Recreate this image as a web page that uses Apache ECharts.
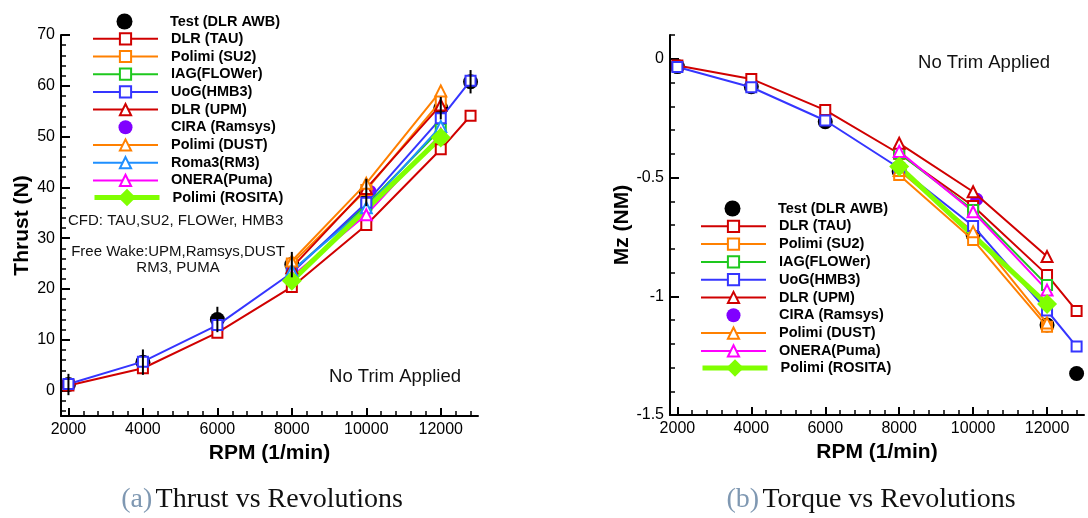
<!DOCTYPE html>
<html><head><meta charset="utf-8">
<script src="https://cdn.jsdelivr.net/npm/echarts@6/dist/echarts.min.js"></script>
<style>html,body{margin:0;padding:0;background:#fff}#c{width:1088px;height:518px}</style>
</head><body><div id="c"></div>
<script>
// ---------- data ----------
const rpmFull   = [2000, 4000, 6000, 8000, 10000, 12000, 12800];
const rpmMid    = [8000, 10000, 12000];
const rpmRosita = [8000, 12000];
const rpmRamsys = [10100];

// Thrust (N)
const thrTest    = [1.2, 5.6, 14.0, 24.8, 39.0, 55.6, 60.8];
const thrTestErr = [2.1, 2.5, 2.5, 2.5, 2.7, 2.2, 2.3];
const thrTAU     = [1.0, 4.4, 11.4, 20.4, 32.6, 47.5, 54.1];
const thrHMB3    = [1.3, 5.7, 12.9, 23.2, 37.0, 53.6, 61.0];
const thrSU2     = [25.0, 39.5, 57.0];
const thrFLOWer  = [23.5, 36.5, 51.5];
const thrUPM     = [24.2, 39.8, 56.2];
const thrRamsys  = [39.2];
const thrDUST    = [25.5, 40.8, 59.0];
const thrRM3     = [23.6, 36.0, 52.0];
const thrPUMA    = [22.5, 34.6, 50.5];
const thrROSITA  = [21.6, 49.8];

// Mz (NM)
const mzTest   = [-0.033, -0.118, -0.265, -0.475, -0.742, -1.121, -1.325];
const mzTAU    = [-0.028, -0.085, -0.216, -0.400, -0.620, -0.910, -1.062];
const mzHMB3   = [-0.035, -0.120, -0.260, -0.460, -0.704, -1.060, -1.212];
const mzSU2    = [-0.489, -0.763, -1.128];
const mzFLOWer = [-0.398, -0.637, -0.953];
const mzUPM    = [-0.356, -0.560, -0.833];
const mzRamsys = [-0.592];
const mzDUST   = [-0.470, -0.728, -1.113];
const mzPUMA   = [-0.390, -0.644, -0.974];
const mzROSITA = [-0.454, -1.033];

// ticks
const xMajor = [2000, 4000, 6000, 8000, 10000, 12000];
const xMinor = [2400, 2800, 3200, 3600, 4400, 4800, 5200, 5600, 6400, 6800, 7200, 7600,
                8400, 8800, 9200, 9600, 10400, 10800, 11200, 11600, 12400, 12800];
const yThrMajor = [0, 10, 20, 30, 40, 50, 60, 70];
const yThrMinor = [-4, -2, 2, 4, 6, 8, 12, 14, 16, 18, 22, 24, 26, 28, 32, 34, 36, 38,
                   42, 44, 46, 48, 52, 54, 56, 58, 62, 64, 66, 68];
const yMzMajor = [-1.5, -1, -0.5, 0];
const yMzMinor = [-1.4, -1.3, -1.2, -1.1, -0.9, -0.8, -0.7, -0.6, -0.4, -0.3, -0.2, -0.1, 0.1];

// legend entries (Test and ROSITA get their own legend boxes for larger symbols)
const legendLeft = ['DLR (TAU)', 'Polimi (SU2)', 'IAG(FLOWer)', 'UoG(HMB3)',
  'DLR (UPM)', 'CIRA (Ramsys)', 'Polimi (DUST)', 'Roma3(RM3)', 'ONERA(Puma)'];
const legendRight = ['DLR (TAU)', 'Polimi (SU2)', 'IAG(FLOWer)', 'UoG(HMB3)',
  'DLR (UPM)', 'CIRA (Ramsys)', 'Polimi (DUST)', 'ONERA(Puma)'];
const legendTest = ['Test (DLR AWB)'];
const legendRosita = ['Polimi (ROSITA)'];

// ---------- styles ----------
const FONT = '"Liberation Sans", Arial, Helvetica, sans-serif';
const SERIF = '"Liberation Serif", "Times New Roman", serif';
const C = {
  red: '#d00000', orange: '#ff8000', green: '#1ec81e', blue: '#3535ff',
  purple: '#8000ff', dodger: '#1e8fff', magenta: '#ff00ff', lime: '#80ff00'
};
const zip = (xs, ys) => xs.map((x, i) => [x, ys[i]]);

function lineS(name, g, xs, ys, color, symbol, size, lw) {
  return {
    name, type: 'line', xAxisIndex: g * 2, yAxisIndex: g * 2, data: zip(xs, ys),
    symbol, symbolSize: size, showAllSymbol: true,
    lineStyle: { color, width: lw || 2 },
    itemStyle: { color, borderWidth: 2 },
    emphasis: { disabled: true }, silent: true
  };
}
function dotS(name, g, xs, ys, color, size) {
  return {
    name, type: 'scatter', xAxisIndex: g * 2, yAxisIndex: g * 2, data: zip(xs, ys),
    symbol: 'circle', symbolSize: size, itemStyle: { color, opacity: 1 },
    emphasis: { disabled: true }, silent: true
  };
}

function xAxes(g) {
  const common = { gridIndex: g, type: 'value', min: 1800, max: 13000, position: 'bottom',
    splitLine: { show: false } };
  return [
    Object.assign({}, common, {
      axisLine: { onZero: false, lineStyle: { color: '#000', width: 2 } },
      axisTick: { inside: true, length: 8, customValues: xMajor, lineStyle: { color: '#000', width: 2 } },
      axisLabel: { customValues: xMajor, fontSize: 16, color: '#000', fontFamily: FONT, margin: 6,
                   formatter: v => String(v) },
      name: 'RPM (1/min)', nameLocation: 'middle', nameGap: 16,
      nameTextStyle: { fontSize: 21, fontWeight: 'bold', color: '#000', fontFamily: FONT }
    }),
    Object.assign({}, common, {
      axisLine: { show: false, onZero: false },
      axisTick: { inside: true, length: 5, customValues: xMinor, lineStyle: { color: '#000', width: 1.5 } },
      axisLabel: { show: false }
    })
  ];
}
function yAxes(g, min, max, major, minor, name, gap) {
  const common = { gridIndex: g, type: 'value', min, max, position: 'left', splitLine: { show: false } };
  return [
    Object.assign({}, common, {
      axisLine: { onZero: false, lineStyle: { color: '#000', width: 2 } },
      axisTick: { inside: true, length: 9, customValues: major, lineStyle: { color: '#000', width: 2 } },
      axisLabel: { customValues: major, fontSize: 16, color: '#000', fontFamily: FONT, margin: 6,
                   formatter: v => String(v) },
      name, nameLocation: 'middle', nameGap: gap,
      nameTextStyle: { fontSize: 21, fontWeight: 'bold', color: '#000', fontFamily: FONT }
    }),
    Object.assign({}, common, {
      axisLine: { show: false, onZero: false },
      axisTick: { inside: true, length: 5, customValues: minor, lineStyle: { color: '#000', width: 1.5 } },
      axisLabel: { show: false }
    })
  ];
}

const series = [
  // left: thrust
  dotS('Test (DLR AWB)', 0, rpmFull, thrTest, '#000', 15),
  lineS('DLR (TAU)', 0, rpmFull, thrTAU, C.red, 'emptyRect', 10),
  lineS('Polimi (SU2)', 0, rpmMid, thrSU2, C.orange, 'emptyRect', 10),
  lineS('IAG(FLOWer)', 0, rpmMid, thrFLOWer, C.green, 'emptyRect', 10),
  lineS('UoG(HMB3)', 0, rpmFull, thrHMB3, C.blue, 'emptyRect', 10),
  lineS('DLR (UPM)', 0, rpmMid, thrUPM, C.red, 'emptyTriangle', 11),
  dotS('CIRA (Ramsys)', 0, rpmRamsys, thrRamsys, C.purple, 13),
  lineS('Polimi (DUST)', 0, rpmMid, thrDUST, C.orange, 'emptyTriangle', 11),
  lineS('Roma3(RM3)', 0, rpmMid, thrRM3, C.dodger, 'emptyTriangle', 11),
  lineS('ONERA(Puma)', 0, rpmMid, thrPUMA, C.magenta, 'emptyTriangle', 11),
  lineS('Polimi (ROSITA)', 0, rpmRosita, thrROSITA, C.lime, 'diamond', 20, 5),
  {
    type: 'custom', name: 'err', xAxisIndex: 0, yAxisIndex: 0, z: 10, silent: true,
    data: rpmFull.map((r, i) => [r, thrTest[i], thrTestErr[i]]),
    encode: { x: 0, y: 1 },
    renderItem: (p, api) => {
      const x = api.value(0), y = api.value(1), e = api.value(2);
      const a = api.coord([x, y - e]), b = api.coord([x, y + e]);
      return { type: 'line', shape: { x1: a[0], y1: a[1], x2: b[0], y2: b[1] },
               style: { stroke: '#000', lineWidth: 2 } };
    }
  },
  // right: Mz
  dotS('Test (DLR AWB)', 1, rpmFull, mzTest, '#000', 15),
  lineS('DLR (TAU)', 1, rpmFull, mzTAU, C.red, 'emptyRect', 10),
  lineS('Polimi (SU2)', 1, rpmMid, mzSU2, C.orange, 'emptyRect', 10),
  lineS('IAG(FLOWer)', 1, rpmMid, mzFLOWer, C.green, 'emptyRect', 10),
  lineS('UoG(HMB3)', 1, rpmFull, mzHMB3, C.blue, 'emptyRect', 10),
  lineS('DLR (UPM)', 1, rpmMid, mzUPM, C.red, 'emptyTriangle', 11),
  dotS('CIRA (Ramsys)', 1, rpmRamsys, mzRamsys, C.purple, 13),
  lineS('Polimi (DUST)', 1, rpmMid, mzDUST, C.orange, 'emptyTriangle', 11),
  lineS('ONERA(Puma)', 1, rpmMid, mzPUMA, C.magenta, 'emptyTriangle', 11),
  lineS('Polimi (ROSITA)', 1, rpmRosita, mzROSITA, C.lime, 'diamond', 20, 5)
];

const ITEM_W = 65;
const legendCommon = {
  orient: 'vertical', padding: 0, itemWidth: ITEM_W, itemHeight: 14, selectedMode: false,
  textStyle: { fontFamily: FONT, fontWeight: 'bold', fontSize: 14.5, color: '#000',
               lineHeight: 14, padding: [0, 0, 0, 8] }
};
function legendBox(left, top, h, gap, names) {
  return Object.assign({}, legendCommon, { left, top, itemHeight: h, itemGap: gap, data: names });
}
// a lone scatter icon is centred in its slot, so its box starts (ITEM_W - h) / 2 to the right
const TEST_H = 16, TEST_SHIFT = (ITEM_W - TEST_H) / 2;
// the line-series icon symbol is 80% of the slot height, centred: its box starts 10% down
const ROS_H = 22, ROS_TOP = ROS_H * 0.4;
const rositaItems = legendRosita.map(n => ({ name: n, lineStyle: { width: 5 } }));

const capRich = {
  a: { fontFamily: SERIF, fontSize: 28, fill: '#7f98b2' },
  t: { fontFamily: SERIF, fontSize: 28, fill: '#111' }
};

const chart = echarts.init(document.getElementById('c'), null, { renderer: 'canvas' });
chart.setOption({
  animation: false,
  backgroundColor: '#fff',
  grid: [
    { left: 61, top: 35, width: 417, height: 381 },
    { left: 670, top: 35, width: 414, height: 380 }
  ],
  xAxis: [...xAxes(0), ...xAxes(1)],
  yAxis: [
    ...yAxes(0, -5, 70, yThrMajor, yThrMinor, 'Thrust (N)', 28),
    ...yAxes(1, -1.5, 0.1, yMzMajor, yMzMinor, 'Mz (NM)', 36)
  ],
  legend: [
    legendBox(92 + TEST_SHIFT, 13.5, TEST_H, 0, legendTest),
    legendBox(92, 31.3, 14, 2.7, legendLeft),
    legendBox(92, 197.5 - ROS_TOP, ROS_H, 0, rositaItems),
    legendBox(700 + TEST_SHIFT, 200.5, TEST_H, 0, legendTest),
    legendBox(700, 218.8, 14, 2.8, legendRight),
    legendBox(700, 368 - ROS_TOP, ROS_H, 0, rositaItems)
  ],
  series,
  graphic: [
    { type: 'text', x: 68, y: 221, silent: true,
      style: { text: 'CFD: TAU,SU2, FLOWer, HMB3', font: '15px ' + FONT, fill: '#111',
               align: 'left', verticalAlign: 'middle' } },
    { type: 'text', x: 178, y: 260, silent: true,
      style: { text: 'Free Wake:UPM,Ramsys,DUST\nRM3, PUMA', font: '15px ' + FONT, fill: '#111',
               align: 'center', verticalAlign: 'middle', lineHeight: 16 } },
    { type: 'text', x: 395, y: 377, silent: true,
      style: { text: 'No Trim Applied', font: '18.5px ' + FONT, fill: '#111',
               align: 'center', verticalAlign: 'middle' } },
    { type: 'text', x: 984, y: 63, silent: true,
      style: { text: 'No Trim Applied', font: '18.5px ' + FONT, fill: '#111',
               align: 'center', verticalAlign: 'middle' } },
    { type: 'text', x: 262, y: 500, silent: true,
      style: { text: '{a|(a)} {t|Thrust vs Revolutions}', align: 'center', verticalAlign: 'middle', rich: capRich } },
    { type: 'text', x: 871, y: 500, silent: true,
      style: { text: '{a|(b)} {t|Torque vs Revolutions}', align: 'center', verticalAlign: 'middle', rich: capRich } }
  ]
});
</script>
</body></html>
